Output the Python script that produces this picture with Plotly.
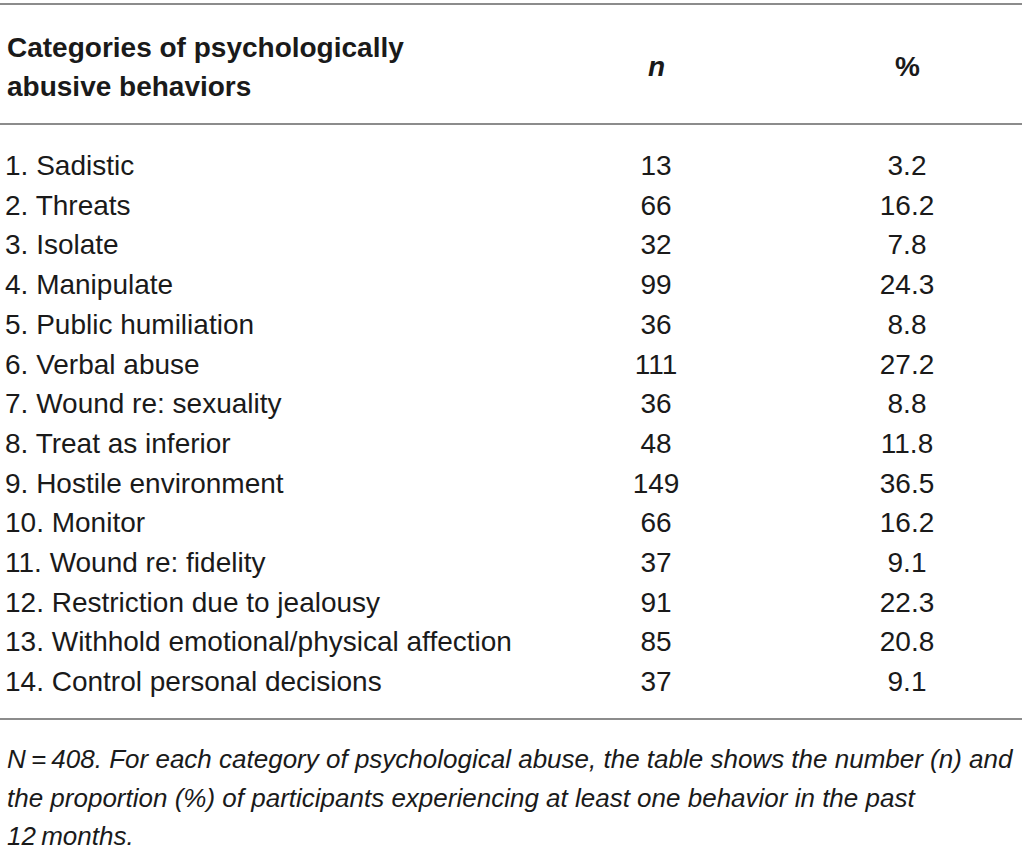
import plotly.graph_objects as go

# Table values
categories = [
    "1. Sadistic",
    "2. Threats",
    "3. Isolate",
    "4. Manipulate",
    "5. Public humiliation",
    "6. Verbal abuse",
    "7. Wound re: sexuality",
    "8. Treat as inferior",
    "9. Hostile environment",
    "10. Monitor",
    "11. Wound re: fidelity",
    "12. Restriction due to jealousy",
    "13. Withhold emotional/physical affection",
    "14. Control personal decisions",
]
n_values = [13, 66, 32, 99, 36, 111, 36, 48, 149, 66, 37, 91, 85, 37]
pct_values = ["3.2", "16.2", "7.8", "24.3", "8.8", "27.2", "8.8", "11.8",
              "36.5", "16.2", "9.1", "22.3", "20.8", "9.1"]

header_cat = ["Categories of psychologically", "abusive behaviors"]
header_n = "<b><i>n</i></b>"
header_pct = "<b>%</b>"
note_lines = [
    "N\u2009=\u2009408. For each category of psychological abuse, the table shows the number (n) and",
    "the proportion (%) of participants experiencing at least one behavior in the past",
    "12\u2009months.",
]

W, H = 1022, 846
font = "Liberation Sans, Arial, Helvetica, sans-serif"
ink = "#1a1a1a"
rule = "#8c8c8c"

# row layout
first_y = 168
step = 39.7
rows_y = [first_y + i * step for i in range(len(categories))]
x_cat, x_n, x_pct = 5, 656, 907
fsize = 28
note_size = 26

fig = go.Figure()
fig.add_trace(go.Scatter(x=[x_cat] * len(categories), y=rows_y, mode="text",
                         text=categories, textposition="middle right",
                         textfont=dict(size=fsize, color=ink, family=font),
                         hoverinfo="skip"))
fig.add_trace(go.Scatter(x=[x_n] * len(n_values), y=rows_y, mode="text",
                         text=[str(v) for v in n_values], textposition="middle center",
                         textfont=dict(size=fsize, color=ink, family=font),
                         hoverinfo="skip"))
fig.add_trace(go.Scatter(x=[x_pct] * len(pct_values), y=rows_y, mode="text",
                         text=pct_values, textposition="middle center",
                         textfont=dict(size=fsize, color=ink, family=font),
                         hoverinfo="skip"))

# header
for i, line in enumerate(header_cat):
    fig.add_annotation(x=x_cat, y=47 + i * 39, text="<b>" + line + "</b>", showarrow=False,
                       xanchor="left", yanchor="middle", align="left",
                       font=dict(size=fsize, color=ink, family=font))
fig.add_annotation(x=x_n, y=66, text=header_n, showarrow=False, xanchor="center",
                   yanchor="middle", font=dict(size=fsize, color=ink, family=font))
fig.add_annotation(x=x_pct, y=66, text=header_pct, showarrow=False, xanchor="center",
                   yanchor="middle", font=dict(size=fsize, color=ink, family=font))

# footnote
for i, line in enumerate(note_lines):
    fig.add_annotation(x=x_cat, y=759 + i * 38.5, text="<i>" + line + "</i>", showarrow=False,
                       xanchor="left", yanchor="middle", align="left",
                       font=dict(size=note_size, color=ink, family=font))

# horizontal rules
for yy in [4, 124, 719]:
    fig.add_shape(type="line", x0=0, x1=W, y0=yy, y1=yy,
                  line=dict(color=rule, width=2))

fig.update_xaxes(range=[0, W], visible=False, fixedrange=True)
fig.update_yaxes(range=[H, 0], visible=False, fixedrange=True)
fig.update_layout(width=W, height=H, margin=dict(l=0, r=0, t=0, b=0),
                  plot_bgcolor="white", paper_bgcolor="white", showlegend=False)

fig.write_html("out.html", config={"displayModeBar": False},
               post_script="document.body.style.margin='0';")
